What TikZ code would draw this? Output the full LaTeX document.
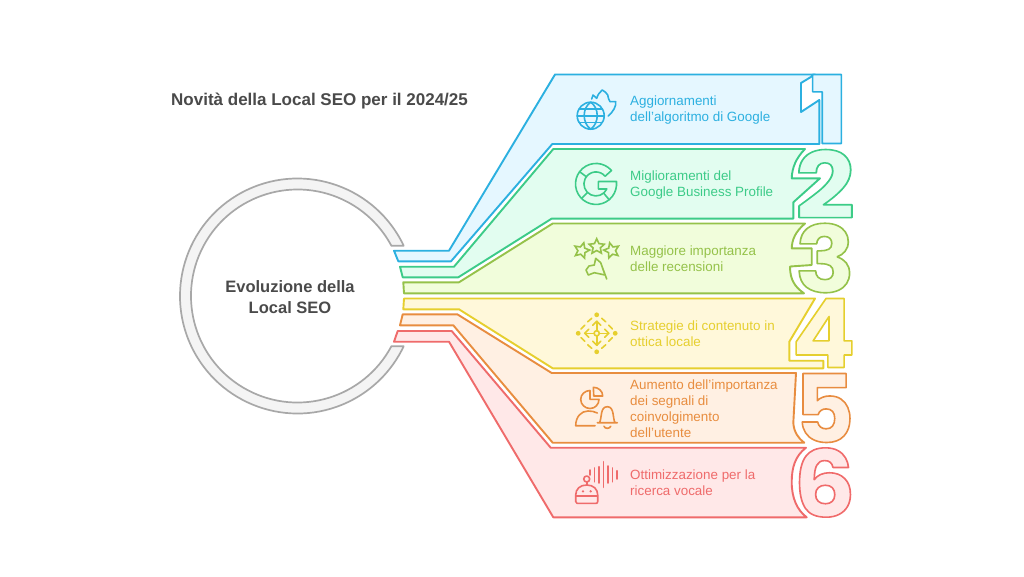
\documentclass[tikz,border=0pt]{standalone}
\usepackage{fontspec}
\usetikzlibrary{shapes.geometric}
\setmainfont{Liberation Sans}
\newfontfamily\digitfont{Poppins Bold}
\newfontfamily\digitfontx{Poppins ExtraBold}
\definecolor{cbl}{HTML}{2CB0E0}\definecolor{fbl}{HTML}{E5F7FF}
\definecolor{cgr}{HTML}{3CCB88}\definecolor{fgr}{HTML}{E2FDF0}
\definecolor{cli}{HTML}{95C24A}\definecolor{fli}{HTML}{F1FDDB}
\definecolor{cye}{HTML}{E6CF2E}\definecolor{fye}{HTML}{FFF8DA}
\definecolor{cor}{HTML}{E88D3F}\definecolor{for}{HTML}{FFF0E3}
\definecolor{cre}{HTML}{EF6B6B}\definecolor{fre}{HTML}{FFE8E8}
\definecolor{cgy}{HTML}{A8A8A8}\definecolor{fgy}{HTML}{F4F4F4}
\definecolor{ink}{HTML}{4A4A4A}
\newcommand\dig[4]{\resizebox{#1pt}{#2pt}{\special{pdf:code q 2 Tr 1 j 1.7 w #4 RG}\fontsize{100}{100}\digitfont #3\special{pdf:code Q}}}
\newcommand\digx[4]{\resizebox{#1pt}{#2pt}{\special{pdf:code q 2 Tr 1 j 1.7 w #4 RG}\fontsize{100}{100}\digitfontx #3\special{pdf:code Q}}}
\tikzset{
 band/.style={line width=1.9pt,line join=round},
 icon/.style={line width=1.6pt,line cap=round,line join=round,fill=none},
 lab/.style={anchor=west,align=left,inner sep=0pt,font=\fontsize{13.4}{16}\selectfont},
 num/.style={inner sep=0pt,anchor=center},
 head/.style={text=ink,inner sep=0pt,font=\fontsize{16.5}{21}\selectfont\bfseries},
 stari/.style={star,star points=5,star point ratio=2.1,draw=cli,line width=1.6pt,inner sep=0pt,minimum size=16pt}
}
\begin{document}
\begin{tikzpicture}[x=1pt,y=-1pt]
\useasboundingbox (0,0) rectangle (1024,576);
\fill[white] (0,0) rectangle (1024,576);
% ring
\begin{scope}[shift={(297.5,296)},y=1pt]
\draw[draw=cgy,fill=fgy,line width=1.7pt,line join=round] (25.3:117.5) arc[start angle=25.3,end angle=334.7,radius=117.5] -- (-28.1:106.5) arc[start angle=331.9,end angle=28.1,radius=106.5] -- cycle;
\end{scope}
\node[head,align=center] (hub) at (290,297.5) {Evoluzione della\\Local SEO};
\node[head,anchor=west,font=\fontsize{17}{21}\selectfont\bfseries] (title) at (171,101) {Novità della Local SEO per il 2024/25};
% bands
\draw[band,draw=cbl,fill=fbl] (394,250.7) -- (449,250.7) -- (555,74.5) -- (815,74.5) -- (801,83) -- (801,112) -- (819.3,100) -- (819.3,144) -- (552.3,144) -- (451,261.3) -- (398.3,261.3) -- cycle;
\draw[band,draw=cgr,fill=fgr] (400,266.7) -- (454,266.7) -- (553.3,149) -- (805,149) .. controls (796,158) and (792,168) .. (791.7,178.3) -- (820,178.3) -- (793.3,202.3) -- (793.3,218.6) -- (551.7,218.6) -- (458.3,277.3) -- (402.7,277.3) -- cycle;
\draw[band,draw=cli,fill=fli] (403.3,282.3) -- (459,282.3) -- (552.7,223.5) -- (805,223.5) .. controls (795,232) and (792,240) .. (791.7,248.3) -- (811.7,248.3) -- (811.7,265) -- (790,266.5) .. controls (790,280) and (795,287) .. (804,293.3) -- (404,293.3) -- cycle;
\draw[band,draw=cye,fill=fye] (404,298.5) -- (815,298.5) -- (789.3,341.7) -- (789.3,360.7) -- (823.3,360.7) -- (823.3,368.3) -- (552.7,368.3) -- (459,309.3) -- (403.3,309.3) -- cycle;
\draw[band,draw=cor,fill=for] (402.7,314.3) -- (457.3,314.3) -- (551.7,373) -- (796,373) -- (793.3,423) .. controls (794,432) and (798,438) .. (804.3,442.7) -- (552.7,442.7) -- (453.3,325.3) -- (400,325.3) -- cycle;
\draw[band,draw=cre,fill=fre] (397.7,331) -- (451.7,331) -- (550.7,447.7) -- (806,447.7) .. controls (795,456) and (791.7,468) .. (791.7,482) .. controls (791.7,498) and (797,510) .. (806.7,517.3) -- (553.3,517.3) -- (449,341.7) -- (394,341.7) -- cycle;
% digits
\node[num,text=fbl] (n1) at (829,109) {\digx{36}{69}{1}{0.17 0.69 0.88}};
\node[num,text=fgr] (n2) at (825,184) {\dig{60}{69}{2}{0.24 0.80 0.53}};
\node[num,text=fli] (n3) at (825,258) {\dig{60}{69}{3}{0.58 0.76 0.29}};
\node[num,text=fye] (n4) at (823.5,333) {\dig{64}{69}{4}{0.90 0.81 0.18}};
\node[num,text=for] (n5) at (824.5,408) {\dig{60}{69}{5}{0.91 0.55 0.25}};
\node[num,text=fre] (n6) at (824.5,482.5) {\dig{62}{69}{6}{0.94 0.42 0.42}};
% labels
\node[lab,text=cbl] (l1) at (630,110) {Aggiornamenti\\dell'algoritmo di Google};
\node[lab,text=cgr] (l2) at (630,185) {Miglioramenti del\\Google Business Profile};
\node[lab,text=cli] (l3) at (630,259) {Maggiore importanza\\delle recensioni};
\node[lab,text=cye] (l4) at (630,334) {Strategie di contenuto in\\ottica locale};
\node[lab,text=cor] (l5) at (630,409) {Aumento dell'importanza\\dei segnali di\\coinvolgimento\\dell'utente};
\node[lab,text=cre] (l6) at (630,483) {Ottimizzazione per la\\ricerca vocale};
% icon 1 globe + flame
\begin{scope}[icon,draw=cbl]
\draw (590.7,115.7) circle (13.5);
\draw (577.2,115.7) -- (604.2,115.7) (579,109) -- (602.4,109) (579,122.4) -- (602.4,122.4);
\draw (590.7,102.2) .. controls (582,108) and (582,123) .. (590.7,129.2) .. controls (599.4,123) and (599.4,108) .. (590.7,102.2);
\draw (591.7,99) -- (593,95) -- (596.7,98.3) .. controls (598,94) and (600,92) .. (602.3,90) .. controls (605,91.5) and (606.5,93) .. (607.7,95) .. controls (608,98) and (609,100) .. (610,101.7) .. controls (612,101.5) and (614,101.5) .. (615.7,101.7) .. controls (616.5,106) and (613,112) .. (608.3,116);
\end{scope}
% icon 2 G
\begin{scope}[shift={(596,184)},y=1pt,icon,draw=cgr]
\draw (15.5,13.5) arc[start angle=41,end angle=355,radius=20.5] -- (20.5,2.5) -- (2.3,2.5) -- (2.3,-5) -- (10.8,-5) arc[start angle=-25,end angle=-320,radius=12] -- cycle;
\draw (143:12) -- (143:20.5) (225:12) -- (225:20.5) (-50:12) -- (-50:20.5);
\end{scope}
% icon 3 stars + hand
\node[stari,rotate=-15] (s1) at (581.7,250.5) {};
\node[stari] (s2) at (596.7,246.7) {};
\node[stari,rotate=15] (s3) at (611.7,250.5) {};
\draw[icon,draw=cli] (595.7,258.3) -- (600.7,262.7) -- (605,275) -- (594.3,272.7) -- (588.3,275) -- (586,270) -- (589,266) -- (594.3,265) -- cycle (600.7,262.7) -- (606.7,279);
% icon 4 arrows
\begin{scope}[shift={(596.7,333.3)},icon,draw=cye]
\draw (0,0) circle (2.6);
\draw (-12,0) -- (-2.6,0) (2.6,0) -- (12,0) (0,-12) -- (0,-2.6) (0,2.6) -- (0,12);
\draw (-8,-4) -- (-12,0) -- (-8,4) (8,-4) -- (12,0) -- (8,4) (-4,-8) -- (0,-12) -- (4,-8) (-4,8) -- (0,12) -- (4,8);
\foreach \sx/\sy in {1/1,1/-1,-1/1,-1/-1}{
 \draw (5*\sx,15*\sy) -- (9*\sx,11.5*\sy) (12*\sx,8*\sy) -- (15.7*\sx,4.3*\sy);
}
\fill[cye] (0,-18.5) circle (2.4) (0,18.5) circle (2.4) (-18.5,0) circle (2.4) (18.5,0) circle (2.4);
\end{scope}
% icon 5 pie + bell
\begin{scope}[icon,draw=cor]
\draw (590,390.5) .. controls (585,390.5) and (580.7,394.5) .. (580.7,399.3) .. controls (580.7,404.5) and (585,408.5) .. (590,408.5) .. controls (595,408.5) and (599,404.5) .. (599,399.3) -- (590,399.3) -- cycle;
\draw (593.3,387.3) .. controls (598.5,387.3) and (602.7,391) .. (602.7,396) -- (593.8,396) -- cycle;
\draw (595,425.7) -- (575.7,425.7) .. controls (575.7,417) and (581,411) .. (588,411) .. controls (591.5,411) and (594.5,411.5) .. (597.3,413);
\draw (597.3,422.7) -- (617.3,422.7) (599.5,422.7) .. controls (602,418) and (600,406.7) .. (607.3,406.7) .. controls (614.5,406.7) and (612.5,418) .. (615,422.7);
\draw (604,426.3) .. controls (605,429) and (609.7,429) .. (610.7,426.3);
\end{scope}
% icon 6 robot + sound
\begin{scope}[icon,draw=cre]
\draw (590,470) -- (590,475) (594.3,468) -- (594.3,481.7) (599,466.7) -- (599,483) (603.3,461.7) -- (603.3,487.3) (608,466) -- (608,483) (612.3,468) -- (612.3,481.7) (617,470.7) -- (617,479);
\draw (586.7,479) circle (3);
\draw (586.7,482) -- (586.7,485);
\draw (575.7,495) .. controls (575.7,489) and (580,485) .. (586.7,485) .. controls (593.4,485) and (597.7,489) .. (597.7,495) -- (597.7,501.5) .. controls (597.7,503) and (597,503.3) .. (596,503.3) -- (577,503.3) .. controls (576,503.3) and (575.7,503) .. (575.7,501.5) -- cycle (575.7,496) -- (597.7,496);
\fill[cre] (583,491.3) circle (1.3) (590.7,491.3) circle (1.3);
\end{scope}
\end{tikzpicture}
\end{document}
